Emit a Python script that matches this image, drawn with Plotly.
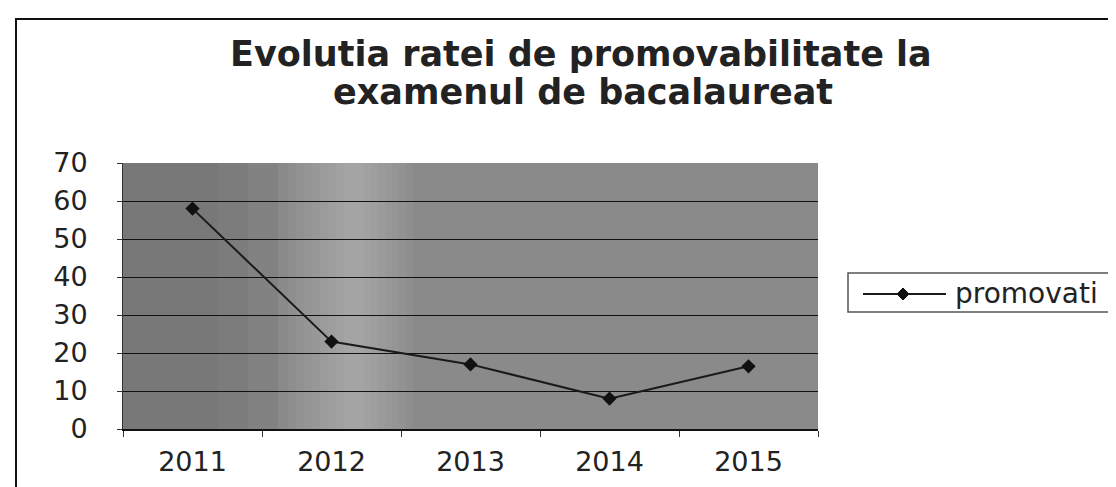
import plotly.graph_objects as go

# ---- data ----
years = ["2011", "2012", "2013", "2014", "2015"]
promovati = [58, 23, 17, 8, 16.5]
series_name = "promovati"
title_line1 = "Evolutia ratei de promovabilitate la"
title_line2 = "examenul de bacalaureat"
y_ticks = [0, 10, 20, 30, 40, 50, 60, 70]

# ---- layout geometry (pixels) ----
W, H = 1116, 487
L, R, T, B = 115, 810, 155, 421

def px_x(px):
    return (px - L) / (R - L)

def px_y(py):
    return (B - py) / (B - T)

FONT = "DejaVu Sans"
DARK = "#222222"

fig = go.Figure()
fig.add_trace(go.Scatter(
    x=years, y=promovati, mode="lines+markers", name=series_name,
    line=dict(color="#1a1a1a", width=2),
    marker=dict(symbol="diamond", size=11, color="#111111"),
    showlegend=False, cliponaxis=False,
))

shapes = []
# darker left part of the plot background
for (a, b, op) in [(115, 270, 0.05), (115, 240, 0.04), (115, 210, 0.03)]:
    shapes.append(dict(type="rect", xref="paper", yref="paper",
                       x0=px_x(a), x1=px_x(b), y0=0, y1=1,
                       fillcolor="black", opacity=op, line=dict(width=0), layer="below"))
# soft light band in the plot background
for i in range(8):
    a = 280 + i * 8
    b = 405 - i * 7
    shapes.append(dict(type="rect", xref="paper", yref="paper",
                       x0=px_x(a), x1=px_x(b), y0=0, y1=1,
                       fillcolor="white", opacity=0.035, line=dict(width=0), layer="below"))
# outer frame (extends beyond the picture on right and bottom)
shapes.append(dict(type="rect", xref="paper", yref="paper",
                   x0=px_x(8), x1=px_x(1130), y0=px_y(500), y1=px_y(11),
                   line=dict(color="#111111", width=2), fillcolor="rgba(0,0,0,0)"))
# legend box
shapes.append(dict(type="rect", xref="paper", yref="paper",
                   x0=px_x(840), x1=px_x(1125), y0=px_y(304), y1=px_y(265),
                   line=dict(color="#555555", width=1.5), fillcolor="white"))
# legend line sample
shapes.append(dict(type="line", xref="paper", yref="paper",
                   x0=px_x(855), x1=px_x(938), y0=px_y(286), y1=px_y(286),
                   line=dict(color="#1a1a1a", width=2)))
# legend diamond marker
cx, cy, d = 895, 286, 6
shapes.append(dict(type="path", xref="paper", yref="paper",
                   path=f"M {px_x(cx - d)},{px_y(cy)} L {px_x(cx)},{px_y(cy - d)} L {px_x(cx + d)},{px_y(cy)} L {px_x(cx)},{px_y(cy + d)} Z",
                   fillcolor="#111111", line=dict(color="#111111", width=1)))

annotations = [
    dict(text=title_line1, xref="paper", yref="paper", x=px_x(573), y=px_y(46),
         xanchor="center", yanchor="middle", showarrow=False,
         font=dict(family=FONT, size=35, color=DARK, weight="bold")),
    dict(text=title_line2, xref="paper", yref="paper", x=px_x(575), y=px_y(84),
         xanchor="center", yanchor="middle", showarrow=False,
         font=dict(family=FONT, size=35, color=DARK, weight="bold")),
    dict(text=series_name, xref="paper", yref="paper", x=px_x(945), y=px_y(285),
         xanchor="left", yanchor="middle", showarrow=False,
         font=dict(family=FONT, size=28, color=DARK)),
]

fig.update_layout(
    width=W, height=H,
    margin=dict(l=L, r=W - R, t=T, b=H - B, pad=0),
    paper_bgcolor="white",
    plot_bgcolor="#8a8a8a",
    shapes=shapes,
    annotations=annotations,
    showlegend=False,
    font=dict(family=FONT, color=DARK),
)
fig.update_xaxes(
    type="category", tickson="boundaries", ticks="outside", ticklen=6,
    tickcolor="#333333", showline=True, linecolor="#111111", linewidth=1.5,
    showgrid=False, tickfont=dict(family=FONT, size=27, color=DARK),
    ticklabelstandoff=8, range=[-0.5, 4.5],
)
fig.update_yaxes(
    range=[0, 70], tickvals=y_ticks, ticks="outside", ticklen=5,
    tickcolor="#333333", showline=True, linecolor="#333333", linewidth=1,
    showgrid=True, gridcolor="#111111", gridwidth=1, zeroline=False,
    tickfont=dict(family=FONT, size=27, color=DARK), ticklabelstandoff=24,
)

fig.write_html("out.html")
